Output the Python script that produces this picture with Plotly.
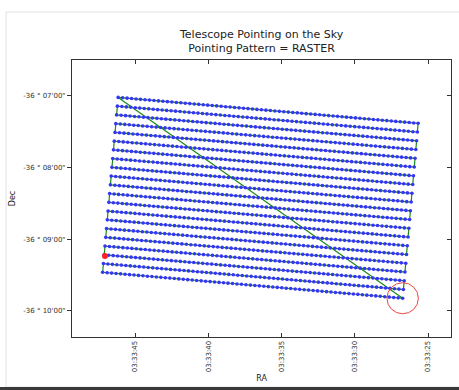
import numpy as np
import plotly.graph_objects as go

# ---- raster scan definition (sky coordinates) ----
map_center_ra = "03:33:36.44"      # hh:mm:ss
map_center_dec = -8.421            # arcmin offset from -36 deg (i.e. -36 08' 25")
row_length_arcsec = 249.0          # scan length along each row
row_spacing_arcsec = 7.35          # distance between neighbouring rows
n_rows = 21
points_per_row = 68
rotation_deg = 5.0                 # tilt of the raster rows

# current telescope position and beam
current_ra = "03:33:47.05"
current_dec = -9.232               # arcmin offset from -36 deg
beam_radius_arcsec = 13.0

# ---- axis ticks ----
ra_tick_labels = ["03:33:45", "03:33:40", "03:33:35", "03:33:30", "03:33:25"]
dec_tick_arcmin = [7, 8, 9, 10]
ra_view_seconds = [49.30, 23.43]          # RA seconds past 03:33 (east on the left)
dec_view_arcmin = [-10.363, -6.498]


def ra_to_deg(text):
    h, m, s = (float(v) for v in text.split(":"))
    return 15.0 * (h + m / 60.0 + s / 3600.0)


def dec_to_deg(arcmin):
    return -36.0 + arcmin / 60.0


ra0 = ra_to_deg(map_center_ra)
dec0 = dec_to_deg(map_center_dec)
cosd = np.cos(np.radians(dec0))

th = np.radians(rotation_deg)
row_dir = np.array([-np.cos(th), -np.sin(th)])   # east/north offsets, row runs east -> west
step_dir = np.array([np.sin(th), -np.cos(th)])   # successive rows go south

ra_pts, dec_pts = [], []
frac = np.linspace(-0.5, 0.5, points_per_row)
for i in range(n_rows):
    u = frac * row_length_arcsec
    if i % 2 == 1:
        u = u[::-1]
    v = (i - (n_rows - 1) / 2.0) * row_spacing_arcsec
    east = u * row_dir[0] + v * step_dir[0]
    north = u * row_dir[1] + v * step_dir[1]
    ra_pts.extend(ra0 + east / 3600.0 / cosd)
    dec_pts.extend(dec0 + north / 3600.0)

ra_pts = np.array(ra_pts)
dec_pts = np.array(dec_pts)

# scan path, closed back to the first pointing
path_ra = np.append(ra_pts, ra_pts[0])
path_dec = np.append(dec_pts, dec_pts[0])

ra_tick_vals = [ra_to_deg(t) for t in ra_tick_labels]
dec_tick_vals = [dec_to_deg(-m) for m in dec_tick_arcmin]
dec_tick_text = ["-36 \u00b0 %02d'00\"" % m for m in dec_tick_arcmin]

x_range = [15.0 * (3 + 33 / 60.0 + s / 3600.0) for s in ra_view_seconds]
y_range = [dec_to_deg(a) for a in dec_view_arcmin]

fig = go.Figure()
fig.add_trace(go.Scatter(x=path_ra, y=path_dec, mode="lines",
                         line=dict(color="#1a8a1a", width=1.2), hoverinfo="skip"))
fig.add_trace(go.Scatter(x=ra_pts, y=dec_pts, mode="markers",
                         marker=dict(color="#3535f5", size=3.6, line=dict(width=0))))
cur_ra = ra_to_deg(current_ra)
cur_dec = dec_to_deg(current_dec)
fig.add_trace(go.Scatter(x=[cur_ra], y=[cur_dec], mode="markers",
                         marker=dict(color="#ff2020", size=6, line=dict(width=0))))
# helper trace so the right-hand tick axis is drawn
fig.add_trace(go.Scatter(x=[cur_ra], y=[cur_dec], yaxis="y2", mode="markers",
                         marker=dict(opacity=0), hoverinfo="skip"))

# beam circle around the final pointing
bx, by = ra_pts[-1], dec_pts[-1]
rx = beam_radius_arcsec / 3600.0 / cosd
ry = beam_radius_arcsec / 3600.0
fig.add_shape(type="circle", xref="x", yref="y",
              x0=bx - rx, x1=bx + rx, y0=by - ry, y1=by + ry,
              line=dict(color="#ee4444", width=1))

# card frame behind the figure
fig.add_shape(type="rect", xref="paper", yref="paper", layer="below",
              x0=-66 / 379, x1=390 / 379, y0=-50 / 277, y1=325 / 277,
              line=dict(color="#e2e2e2", width=1), fillcolor="white")
fig.add_shape(type="rect", xref="paper", yref="paper", layer="below",
              x0=-0.3, x1=1.1, y0=-54 / 277, y1=-50 / 277,
              line=dict(width=0), fillcolor="#3a3a3a")

axis_font = dict(family="DejaVu Sans", size=7, color="#333333")

fig.update_layout(
    width=459, height=390,
    margin=dict(l=72, r=8, t=60, b=53),
    paper_bgcolor="white", plot_bgcolor="white",
    showlegend=False,
    font=dict(family="DejaVu Sans", color="#222222"),
    xaxis=dict(range=x_range, tickvals=ra_tick_vals, ticktext=ra_tick_labels,
               tickangle=-90, ticks="inside", ticklen=4, tickcolor="#333333",
               showline=True, linecolor="#333333", linewidth=1, mirror="ticks",
               showgrid=False, zeroline=False, tickfont=axis_font,
               title=dict(text="RA", font=dict(size=8, color="#222222"), standoff=4)),
    yaxis=dict(range=y_range, tickvals=dec_tick_vals, ticktext=dec_tick_text,
               ticks="outside", ticklen=4, tickcolor="#333333",
               showline=True, linecolor="#333333", linewidth=1, mirror=True,
               showgrid=False, zeroline=False, tickfont=axis_font,
               title=dict(text="Dec", font=dict(size=8, color="#222222"), standoff=6)),
    yaxis2=dict(overlaying="y", side="right", matches="y", range=y_range,
                tickvals=dec_tick_vals, ticks="inside", ticklen=4, tickcolor="#333333",
                showticklabels=False, showline=False, showgrid=False, zeroline=False),
    annotations=[dict(text="Telescope Pointing on the Sky<br>Pointing Pattern = RASTER",
                      xref="paper", yref="paper", x=0.5, y=1, yshift=3,
                      xanchor="center", yanchor="bottom", showarrow=False,
                      font=dict(family="DejaVu Sans", size=11, color="#222222"))],
)

fig.write_html("out.html")
